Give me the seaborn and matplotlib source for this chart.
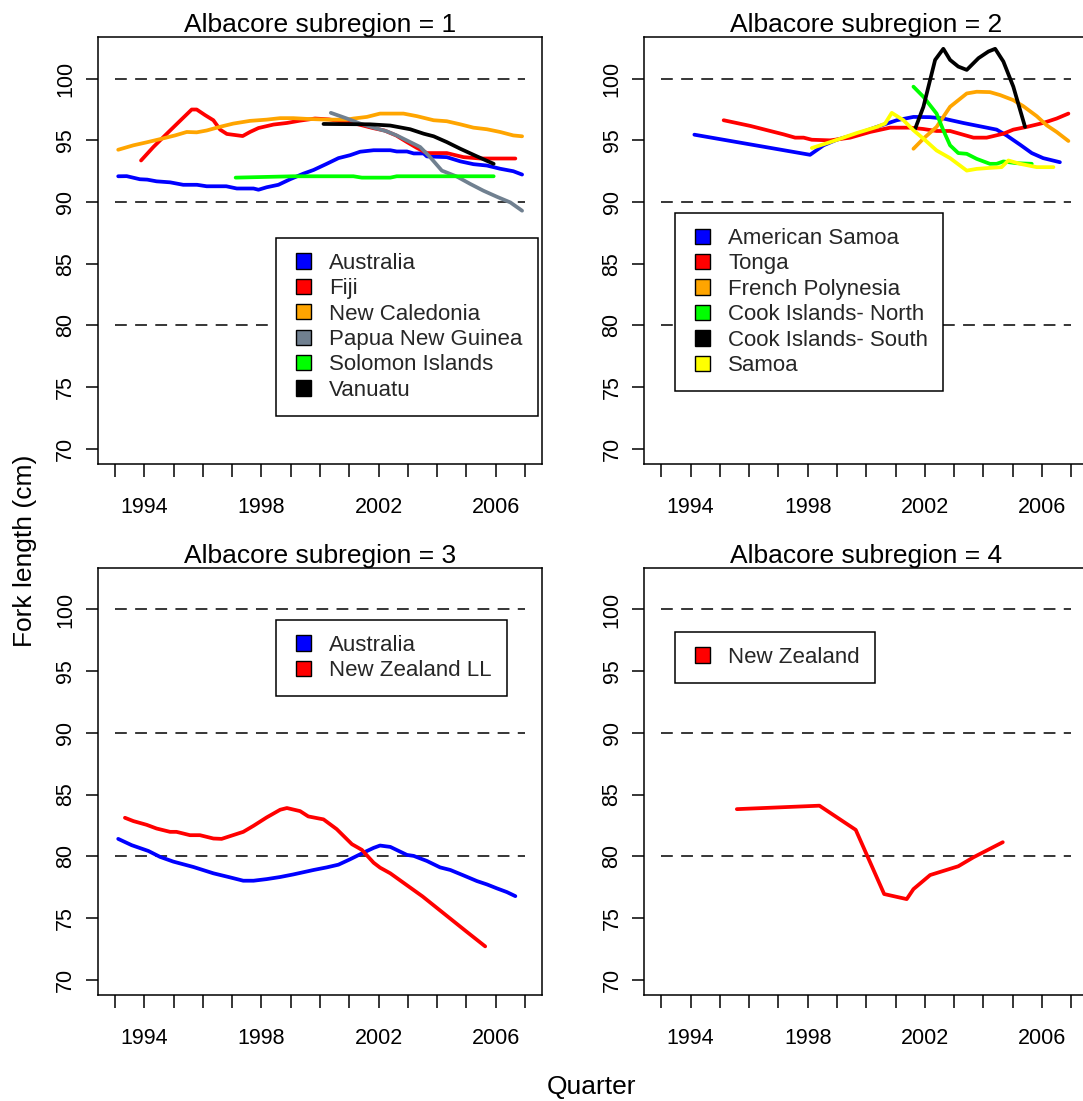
import numpy as np
import pandas as pd
import matplotlib
matplotlib.use("Agg")
import matplotlib.pyplot as plt
from matplotlib.patches import Patch, Rectangle
from matplotlib.legend_handler import HandlerPatch
import seaborn as sns

# ---------------- data: mean fork length by quarter ----------------
# Subregion 1
aus1_x = [1993.11, 1993.4, 1993.85, 1994.1, 1994.42, 1994.88, 1995.33, 1995.8, 1996.13, 1996.8,
          1997.16, 1997.73, 1997.9, 1998.18, 1998.58, 1998.98, 1999.43, 1999.78, 2000.23, 2000.63,
          2001.03, 2001.37, 2001.83, 2002.4, 2002.62, 2002.97, 2003.2, 2003.54, 2003.65, 2004.33,
          2004.79, 2005.24, 2005.7, 2006.15, 2006.6, 2006.9]
aus1_y = [92.09, 92.1, 91.85, 91.82, 91.68, 91.6, 91.4, 91.4, 91.28, 91.28,
          91.1, 91.1, 91.0, 91.2, 91.4, 91.85, 92.3, 92.6, 93.1, 93.56,
          93.8, 94.08, 94.2, 94.2, 94.1, 94.1, 93.94, 93.94, 93.7, 93.64,
          93.3, 93.07, 92.96, 92.7, 92.5, 92.23]

fiji_x = [1993.89, 1994.31, 1994.77, 1995.22, 1995.62, 1995.79, 1996.08, 1996.36, 1996.59, 1996.82,
          1997.36, 1997.61, 1997.9, 1998.41, 1998.87, 1999.32, 1999.83, 2000.3, 2000.8, 2001.3,
          2001.8, 2002.2, 2002.6, 2002.97, 2003.3, 2003.65, 2004.33, 2004.9, 2005.47, 2006.67]
fiji_y = [93.37, 94.46, 95.54, 96.58, 97.5, 97.5, 97.04, 96.63, 95.87, 95.52,
          95.35, 95.68, 96.0, 96.28, 96.41, 96.6, 96.77, 96.7, 96.5, 96.3,
          96.0, 95.8, 95.4, 94.86, 94.4, 93.97, 93.97, 93.64, 93.53, 93.53]

ncal_x = [1993.11, 1993.63, 1994.08, 1994.54, 1995.05, 1995.45, 1995.79, 1996.13, 1996.59, 1997.04,
          1997.61, 1998.18, 1998.64, 1999.09, 1999.55, 2000.23, 2000.92, 2001.14, 2001.6, 2002.05,
          2002.85, 2003.31, 2003.88, 2004.33, 2004.79, 2005.24, 2005.7, 2006.15, 2006.6, 2006.9]
ncal_y = [94.24, 94.6, 94.84, 95.1, 95.4, 95.68, 95.65, 95.8, 96.1, 96.36,
          96.58, 96.68, 96.8, 96.8, 96.74, 96.68, 96.68, 96.77, 96.9, 97.17,
          97.17, 96.96, 96.63, 96.55, 96.3, 96.03, 95.9, 95.68, 95.4, 95.33]

png_x = [2000.37, 2000.92, 2001.37, 2001.83, 2002.28, 2002.62, 2003.08, 2003.42, 2003.76, 2004.16,
         2004.67, 2005.13, 2005.58, 2006.04, 2006.5, 2006.9]
png_y = [97.23, 96.77, 96.36, 96.03, 95.73, 95.4, 94.86, 94.46, 93.64, 92.55,
         92.07, 91.47, 90.92, 90.43, 89.97, 89.3]

sol_x = [1997.12, 1999.09, 2001.14, 2001.43, 2002.4, 2002.62, 2005.93]
sol_y = [91.98, 92.09, 92.09, 91.98, 91.98, 92.09, 92.09]

van_x = [2000.12, 2001.71, 2002.4, 2003.08, 2003.54, 2003.88, 2004.33, 2004.79, 2005.36, 2005.93]
van_y = [96.33, 96.3, 96.2, 95.9, 95.54, 95.33, 94.86, 94.32, 93.7, 93.1]

# Subregion 2
asam_x = [1994.13, 1998.08, 1998.54, 1998.99, 1999.68, 2000.36, 2001.04, 2001.61, 2002.18, 2002.63,
          2003.31, 2003.88, 2004.45, 2004.79, 2005.25, 2005.65, 2006.04, 2006.61]
asam_y = [95.46, 93.83, 94.6, 95.05, 95.52, 96.09, 96.63, 96.9, 96.88, 96.77,
          96.41, 96.14, 95.87, 95.4, 94.65, 93.97, 93.56, 93.23]

tonga_x = [1995.13, 1996.04, 1996.72, 1997.17, 1997.57, 1997.86, 1998.14, 1998.77, 1999.45, 2000.13,
           2000.81, 2001.5, 2001.95, 2002.4, 2002.86, 2003.66, 2004.11, 2004.68, 2005.02, 2005.48,
           2006.04, 2006.5, 2006.9]
tonga_y = [96.63, 96.17, 95.76, 95.49, 95.22, 95.22, 95.05, 95.0, 95.22, 95.68,
           96.03, 96.03, 95.92, 95.76, 95.76, 95.22, 95.22, 95.54, 95.87, 96.09,
           96.41, 96.77, 97.17]

fpol_x = [2001.61, 2001.95, 2002.4, 2002.86, 2003.43, 2003.77, 2004.22, 2004.57, 2005.02, 2005.36,
          2005.82, 2006.16, 2006.5, 2006.9]
fpol_y = [94.32, 95.14, 96.09, 97.72, 98.8, 98.94, 98.91, 98.67, 98.26, 97.77,
          96.96, 96.22, 95.68, 94.95]

cin_x = [2001.61, 2001.95, 2002.4, 2002.63, 2002.86, 2003.14, 2003.43, 2003.77, 2004.22, 2004.45,
         2004.68, 2005.13, 2005.65]
cin_y = [99.35, 98.53, 97.17, 95.82, 94.6, 93.97, 93.91, 93.5, 93.1, 93.1,
         93.29, 93.15, 93.1]

cis_x = [2001.67, 2001.95, 2002.35, 2002.63, 2002.86, 2003.14, 2003.43, 2003.83, 2004.17, 2004.4,
         2004.68, 2005.02, 2005.42]
cis_y = [95.95, 97.72, 101.52, 102.42, 101.52, 100.98, 100.71, 101.66, 102.2, 102.42,
         101.39, 99.35, 96.09]

samoa_x = [1998.14, 1998.77, 1999.68, 2000.36, 2000.64, 2000.87, 2001.27, 2001.61, 2001.95, 2002.4,
           2002.86, 2003.43, 2003.77, 2004.22, 2004.62, 2004.85, 2005.25, 2005.82, 2006.39]
samoa_y = [94.38, 94.86, 95.6, 96.09, 96.36, 97.23, 96.63, 95.82, 95.14, 94.18,
           93.56, 92.55, 92.69, 92.77, 92.83, 93.37, 93.1, 92.83, 92.83]

# Subregion 3
aus3_x = [1993.11, 1993.57, 1994.14, 1994.54, 1994.99, 1995.68, 1996.36, 1996.93, 1997.38, 1997.73,
          1998.18, 1998.64, 1999.09, 1999.78, 2000.23, 2000.63, 2001.03, 2001.49, 2001.83, 2002.05,
          2002.4, 2002.97, 2003.2, 2003.65, 2004.1, 2004.45, 2004.9, 2005.36, 2005.7, 2006.04,
          2006.38, 2006.67]
aus3_y = [81.41, 80.9, 80.43, 79.95, 79.57, 79.13, 78.62, 78.29, 78.02, 78.02,
          78.15, 78.32, 78.53, 78.89, 79.1, 79.32, 79.76, 80.3, 80.68, 80.87,
          80.76, 80.11, 80.03, 79.62, 79.1, 78.89, 78.45, 77.99, 77.72, 77.4,
          77.1, 76.77]

nzll_x = [1993.34, 1993.63, 1994.08, 1994.42, 1994.88, 1995.1, 1995.56, 1995.9, 1996.36, 1996.64,
          1997.38, 1997.73, 1998.18, 1998.64, 1998.87, 1999.32, 1999.6, 2000.12, 2000.57, 2001.09,
          2001.43, 2001.83, 2002.05, 2002.4, 2002.97, 2003.5, 2004.0, 2004.5, 2005.0, 2005.64]
nzll_y = [83.12, 82.85, 82.55, 82.25, 81.98, 81.98, 81.71, 81.71, 81.44, 81.41,
          81.98, 82.47, 83.15, 83.77, 83.91, 83.66, 83.23, 82.99, 82.2, 80.98,
          80.52, 79.48, 79.08, 78.62, 77.65, 76.75, 75.8, 74.85, 73.9, 72.7]

# Subregion 4
nz4_x = [1995.58, 1998.4, 1999.64, 2000.61, 2001.38, 2001.61, 2002.18, 2003.14, 2003.66, 2004.66]
nz4_y = [83.82, 84.1, 82.14, 76.94, 76.53, 77.34, 78.48, 79.19, 79.92, 81.14]

year_ticks = list(range(1993, 2008))
year_labels = ["1994", "1998", "2002", "2006"]
length_ticks = [70, 75, 80, 85, 90, 95, 100]
ref_lengths = [80, 90, 100]

panels = [
    ("Albacore subregion = 1", [
        ("Australia", "#0000FF", aus1_x, aus1_y),
        ("Fiji", "#FF0000", fiji_x, fiji_y),
        ("New Caledonia", "#FFA500", ncal_x, ncal_y),
        ("Papua New Guinea", "#708090", png_x, png_y),
        ("Solomon Islands", "#00FF00", sol_x, sol_y),
        ("Vanuatu", "#000000", van_x, van_y),
    ]),
    ("Albacore subregion = 2", [
        ("American Samoa", "#0000FF", asam_x, asam_y),
        ("Tonga", "#FF0000", tonga_x, tonga_y),
        ("French Polynesia", "#FFA500", fpol_x, fpol_y),
        ("Cook Islands- North", "#00FF00", cin_x, cin_y),
        ("Cook Islands- South", "#000000", cis_x, cis_y),
        ("Samoa", "#FFFF00", samoa_x, samoa_y),
    ]),
    ("Albacore subregion = 3", [
        ("Australia", "#0000FF", aus3_x, aus3_y),
        ("New Zealand LL", "#FF0000", nzll_x, nzll_y),
    ]),
    ("Albacore subregion = 4", [
        ("New Zealand", "#FF0000", nz4_x, nz4_y),
    ]),
]


def square_key(legend, orig_handle, xdescent, ydescent, width, height, fontsize):
    # filled square pushed to the right end of the handle box
    s = height
    return Rectangle((-xdescent + width - s, -ydescent), s, s)


# ---------------- figure layout ----------------
sns.set_theme(style="ticks")
plt.rcParams["font.family"] = ["Liberation Sans", "DejaVu Sans"]
plt.rcParams["lines.scale_dashes"] = False

W, H = 1083, 1101
fig = plt.figure(figsize=(W / 100, H / 100), dpi=100)
fig.patch.set_facecolor("white")

ax_w, ax_h = 444.3, 427.0
boxes = [(97.7, 36.7), (644.0, 36.7), (97.7, 567.5), (644.0, 567.5)]
legend_anchor = [(0.4013, 0.5296), (0.0698, 0.5874), (0.4013, 0.878), (0.0698, 0.8498)]

for (title, series), (lx, ty), anchor in zip(panels, boxes, legend_anchor):
    ax = fig.add_axes([lx / W, 1 - (ty + ax_h) / H, ax_w / W, ax_h / H])
    ax.set_facecolor("white")

    frames = [pd.DataFrame({"year": xs, "length": ys, "fleet": name})
              for name, _, xs, ys in series]
    df = pd.concat(frames, ignore_index=True)
    names = [s[0] for s in series]
    palette = {s[0]: s[1] for s in series}

    ax.hlines(ref_lengths, 1993, 2007, colors="black", linewidth=1.1,
              linestyles=(0, (8.5, 6.0)), zorder=1)

    sns.lineplot(data=df, x="year", y="length", hue="fleet", hue_order=names,
                 palette=palette, sort=False, estimator=None, legend=False,
                 linewidth=2.7, ax=ax, zorder=2,
                 solid_capstyle="round", solid_joinstyle="round")

    ax.set_xlim(1992.41, 2007.58)
    ax.set_ylim(68.8, 103.4)
    ax.set_xticks(year_ticks)
    ax.set_xticklabels([str(y) if str(y) in year_labels else "" for y in year_ticks])
    ax.set_yticks(length_ticks)
    ax.set_yticklabels([str(v) for v in length_ticks])
    ax.tick_params(axis="x", length=9.2, width=1.1, pad=15, labelsize=15.5, colors="black")
    ax.tick_params(axis="y", length=8.4, width=1.1, pad=7, labelsize=15.5, colors="black")
    for lab in ax.get_yticklabels():
        lab.set_rotation(90)
        lab.set_va("center")
        lab.set_ha("right")
    for sp in ax.spines.values():
        sp.set_visible(True)
        sp.set_linewidth(1.1)
        sp.set_color("black")
    ax.set_xlabel("")
    ax.set_ylabel("")
    ax.set_title(title, fontsize=19, pad=3, color="black")

    handles = [Patch(facecolor=c, edgecolor="black", linewidth=1.0, label=n)
               for n, c, _, _ in series]
    leg = ax.legend(handles=handles, loc="upper left", bbox_to_anchor=anchor,
                    bbox_transform=ax.transAxes, fontsize=16, frameon=True,
                    fancybox=False, framealpha=1, edgecolor="black",
                    borderaxespad=0, borderpad=0.68, handlelength=0.9,
                    handleheight=0.68, handletextpad=0.82, labelspacing=0.2,
                    handler_map={Patch: HandlerPatch(patch_func=square_key)})
    leg.get_frame().set_linewidth(1.1)
    leg.set_zorder(5)

fig.text(25 / W, 0.5, "Fork length (cm)", rotation=90, ha="center", va="center",
         fontsize=19, color="black")
fig.text(592 / W, 1 - 1087 / H, "Quarter", ha="center", va="center",
         fontsize=19, color="black")

fig.savefig("out.png", dpi=100, facecolor="white")
